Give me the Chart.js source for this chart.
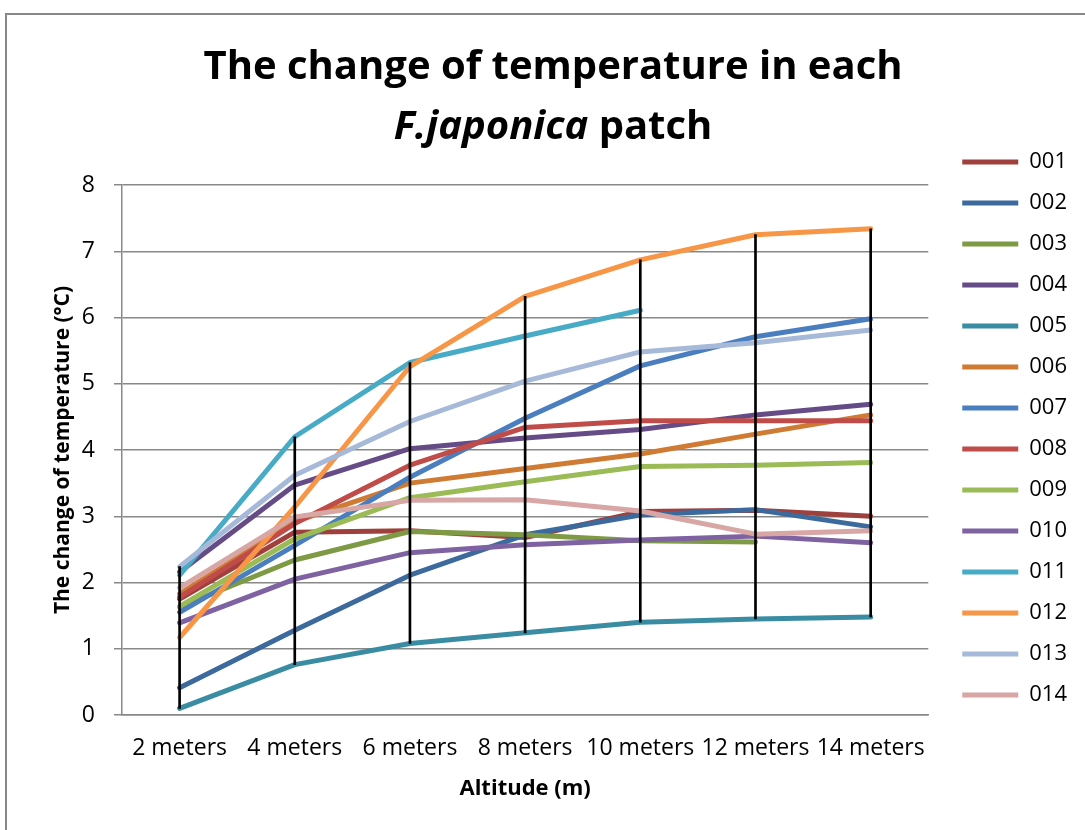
<!DOCTYPE html>
<html>
<head>
<meta charset="utf-8">
<script src="https://cdn.jsdelivr.net/npm/chart.js@4.4.0/dist/chart.umd.min.js"></script>
<style>
  html, body { margin: 0; padding: 0; background: #fff; overflow: hidden; }
  #frame { position: absolute; left: 5px; top: 13px; width: 1200px; height: 1000px;
           border-left: 2px solid #888; border-top: 2px solid #888; }
  #wrap { position: absolute; left: 0; top: 0; width: 1085px; height: 830px; }
  #title { position: absolute; left: 0; top: 34px; width: 1106px; text-align: center;
           font-family: 'Open Sans', sans-serif; font-weight: bold; font-size: 40px;
           line-height: 60px; color: #000; }
</style>
</head>
<body>
<div id="frame"></div>
<div id="wrap"><canvas id="myChart" width="1085" height="830"></canvas></div>
<div id="title">The change of temperature in each<br><i>F.japonica</i> patch</div>
<script>
var categories = ['2 meters', '4 meters', '6 meters', '8 meters', '10 meters', '12 meters', '14 meters'];

var patchNames = ['001', '002', '003', '004', '005', '006', '007', '008', '009', '010', '011', '012', '013', '014'];

var s001 = [1.75, 2.76, 2.78, 2.68, 3.07, 3.09, 3.00];
var s002 = [0.41, 1.28, 2.11, 2.72, 3.02, 3.10, 2.84];
var s003 = [1.63, 2.34, 2.77, 2.72, 2.63, 2.61, null];
var s004 = [2.16, 3.47, 4.02, 4.18, 4.31, 4.53, 4.69];
var s005 = [0.10, 0.76, 1.08, 1.24, 1.40, 1.45, 1.48];
var s006 = [1.83, 2.92, 3.50, 3.72, 3.94, 4.24, 4.53];
var s007 = [1.55, 2.56, 3.59, 4.48, 5.27, 5.71, 5.98];
var s008 = [1.78, 2.89, 3.77, 4.34, 4.44, 4.44, 4.44];
var s009 = [1.64, 2.66, 3.28, 3.52, 3.75, 3.77, 3.81];
var s010 = [1.39, 2.05, 2.45, 2.57, 2.64, 2.70, 2.60];
var s011 = [2.11, 4.20, 5.32, 5.72, 6.11, null, null];
var s012 = [1.17, 3.14, 5.26, 6.32, 6.87, 7.25, 7.34];
var s013 = [2.24, 3.62, 4.43, 5.04, 5.48, 5.62, 5.81];
var s014 = [1.92, 2.99, 3.24, 3.25, 3.08, 2.73, 2.78];

var yTicks = [0, 1, 2, 3, 4, 5, 6, 7, 8];

var colors = ['#A0403C', '#3D6A9D', '#7E9A45', '#664C86', '#3A8CA3', '#D07B33',
              '#4A7EBF', '#C04C49', '#9ABB55', '#7E62A2', '#48ABC6', '#F79646',
              '#A7B9D8', '#D8A6A5'];

var allSeries = [s001, s002, s003, s004, s005, s006, s007, s008, s009, s010, s011, s012, s013, s014];

// high-low lines: spread between the lowest and highest patch at each altitude
var highLow = categories.map(function (c, i) {
    var vals = allSeries.map(function (s) { return s[i]; }).filter(function (v) { return v != null; });
    return [Math.min.apply(null, vals), Math.max.apply(null, vals)];
});

var datasets = allSeries.map(function (s, i) {
    return {
        type: 'line',
        label: patchNames[i],
        data: s,
        borderColor: colors[i],
        backgroundColor: colors[i],
        borderWidth: 5,
        borderCapStyle: 'round',
        borderJoinStyle: 'round',
        pointRadius: 0,
        tension: 0,
        fill: false,
        order: 100 - i
    };
});
datasets.push({
    type: 'bar',
    label: 'high-low',
    data: highLow,
    backgroundColor: '#000',
    barThickness: 2,
    order: 0
});

new Chart('myChart', {
    type: 'line',
    data: { labels: categories, datasets: datasets },
    options: {
        responsive: false,
        animation: false,
        layout: { padding: { top: 132, left: 45, right: 8, bottom: 24 } },
        plugins: {
            title: { display: false },
            tooltip: { enabled: false },
            legend: {
                position: 'right',
                align: 'start',
                labels: {
                    usePointStyle: true,
                    pointStyle: 'line',
                    pointStyleWidth: 56,
                    padding: 19,
                    color: '#000',
                    font: { family: 'Open Sans', size: 22 },
                    filter: function (item) { return item.datasetIndex < patchNames.length; },
                    sort: function (a, b) { return a.datasetIndex - b.datasetIndex; }
                }
            }
        },
        scales: {
            x: {
                offset: true,
                grid: { display: false, drawTicks: false },
                border: { color: '#888', width: 1.5 },
                ticks: { color: '#000', padding: 20, maxRotation: 0, autoSkip: false,
                         font: { family: 'Open Sans', size: 23 } },
                title: { display: true, text: 'Altitude (m)', color: '#000',
                         padding: { top: 16, bottom: 4 },
                         font: { family: 'Open Sans', size: 22, weight: 'bold' } },
                afterFit: function (scale) { scale.height = 91; }
            },
            xTop: {
                type: 'category',
                position: 'top',
                grid: { display: false, drawTicks: false },
                border: { display: false },
                ticks: { display: false },
                afterFit: function (scale) { scale.height = 53; }
            },
            y: {
                min: 0,
                max: 8,
                afterBuildTicks: function (scale) {
                    scale.ticks = yTicks.map(function (v) { return { value: v }; });
                },
                grid: { color: '#888', lineWidth: 1.5, tickLength: 8 },
                border: { color: '#888', width: 1.5 },
                ticks: { color: '#000', padding: 19, font: { family: 'Open Sans', size: 23 } },
                title: { display: true, text: 'The change of temperature (°C)', color: '#000',
                         padding: { top: 5, bottom: 7 },
                         font: { family: 'Open Sans', size: 21, weight: 'bold' } },
                afterFit: function (scale) { scale.width = 77; }
            },
            yRight: {
                type: 'linear',
                position: 'right',
                grid: { display: false, drawTicks: false },
                border: { display: false },
                ticks: { display: false },
                afterFit: function (scale) { scale.width = 15; }
            }
        }
    }
});
</script>
</body>
</html>
